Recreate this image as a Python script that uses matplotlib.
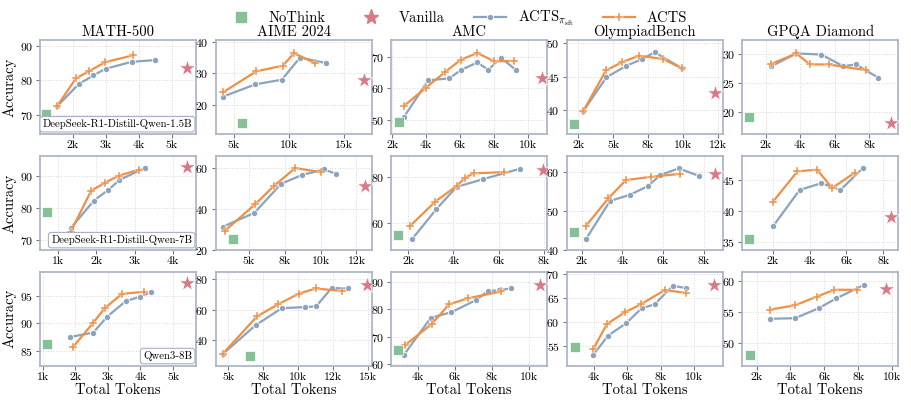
import matplotlib
matplotlib.use('Agg')
import matplotlib.pyplot as plt
from matplotlib.lines import Line2D
from matplotlib.ticker import FuncFormatter

# Benchmarks (columns) and models (rows)
benchmarks = ['MATH-500', 'AIME 2024', 'AMC', 'OlympiadBench', 'GPQA Diamond']
models = ['DeepSeek-R1-Distill-Qwen-1.5B', 'DeepSeek-R1-Distill-Qwen-7B', 'Qwen3-8B']

# ---- DeepSeek-R1-Distill-Qwen-1.5B ----
q15_acts_tok = [[1530, 2100, 2500, 2980, 3830],
                [4040, 7040, 9440, 10460, 12360],
                [2700, 3990, 5120, 6040, 7030, 8030, 9200],
                [2860, 4480, 5600, 6860, 8570, 9950],
                [2330, 3780, 4560, 5660, 7810]]
q15_acts_acc = [[72.5, 80.6, 82.7, 85.3, 87.3],
                [24.0, 30.7, 32.5, 36.5, 33.3],
                [54.4, 60.2, 65.2, 69.1, 71.3, 68.6, 68.8],
                [39.9, 45.9, 47.1, 48.1, 47.6, 46.2],
                [28.3, 30.1, 28.2, 28.2, 27.2]]
q15_sft_tok = [[1530, 2180, 2630, 3000, 3780, 4480],
               [4040, 6950, 9350, 11000, 13400],
               [2700, 4130, 5380, 6040, 7030, 7670, 8410, 9300],
               [2860, 4520, 5950, 7100, 7980, 9950],
               [2330, 3780, 5230, 6490, 7230, 8530]]
q15_sft_acc = [[72.5, 78.9, 81.5, 83.4, 85.4, 85.9],
               [22.6, 26.5, 28.0, 35.1, 33.3],
               [50.9, 62.6, 63.2, 65.8, 68.3, 65.9, 69.8, 65.9],
               [39.9, 44.9, 46.6, 47.6, 48.6, 46.2],
               [27.9, 30.1, 29.9, 27.9, 28.2, 25.9]]
q15_nothink = [(1200, 70.3), (5750, 14.2), (2400, 49.2), (2190, 38.0), (1030, 19.1)]
q15_vanilla = [(5460, 83.6), (16800, 27.8), (10860, 63.4), (12310, 42.5), (9260, 18.1)]

# ---- DeepSeek-R1-Distill-Qwen-7B ----
q7_acts_tok = [[1330, 1860, 2220, 2580, 3100],
               [3330, 5460, 6740, 8240, 10020],
               [2100, 3200, 4140, 4500, 4890, 6240],
               [2210, 3310, 4180, 5390, 6830],
               [2000, 3330, 4400, 5220, 6450]]
q7_acts_acc = [[72.5, 85.3, 87.8, 90.0, 91.9],
               [29.3, 42.4, 51.2, 60.0, 58.0],
               [58.8, 69.4, 76.2, 79.7, 81.8, 82.3],
               [46.2, 53.3, 58.0, 58.8, 59.6],
               [41.5, 46.4, 46.7, 43.7, 46.2]]
q7_sft_tok = [[1330, 1930, 2310, 2600, 3270],
              [3190, 5390, 7250, 8700, 10210, 11090],
              [2180, 3250, 4140, 5300, 6950],
              [2210, 3390, 4370, 5240, 5870, 6770, 7750],
              [2000, 3450, 4640, 5670, 6910]]
q7_sft_acc = [[73.6, 82.2, 85.6, 88.7, 92.5],
              [31.3, 38.1, 52.3, 56.6, 59.3, 57.2],
              [53.0, 66.1, 75.8, 79.2, 83.8],
              [42.8, 52.6, 54.2, 56.4, 59.3, 61.0, 59.1],
              [37.5, 43.4, 44.5, 43.4, 47.0]]
q7_nothink = [(720, 78.6), (3910, 25.4), (1550, 54.5), (1620, 44.7), (690, 35.5)]
q7_vanilla = [(4370, 92.7), (13060, 51.2), (7950, 83.3), (8570, 59.6), (8420, 39.0)]

# ---- Qwen3-8B ----
q3_acts_tok = [[1930, 2540, 2900, 3430, 4110],
               [4590, 7060, 8590, 10040, 11260, 13170],
               [3310, 4750, 5690, 6720, 8500],
               [3960, 4770, 5870, 6790, 8230, 9530],
               [2820, 4290, 5570, 6590, 7920]]
q3_acts_acc = [[85.7, 90.0, 92.7, 95.3, 95.7],
               [31.0, 55.6, 63.5, 70.3, 73.7, 72.1],
               [66.9, 74.7, 81.9, 84.1, 86.6],
               [54.4, 59.6, 62.1, 63.7, 66.7, 66.1],
               [55.4, 56.1, 57.5, 58.6, 58.6]]
q3_sft_tok = [[1840, 2550, 2980, 3550, 3990, 4310],
              [4590, 6990, 8830, 10500, 11290, 12400, 13600],
              [3250, 4690, 5810, 7130, 7780, 8350, 9030],
              [3960, 4850, 5930, 6850, 7620, 8710, 9530],
              [2820, 4290, 5660, 6710, 8350]]
q3_sft_acc = [[87.5, 88.3, 91.2, 94.0, 94.8, 95.6],
              [31.0, 50.0, 60.9, 61.6, 62.1, 74.0, 73.7],
              [63.4, 76.9, 79.0, 83.4, 86.7, 87.0, 87.7],
              [53.2, 57.2, 59.8, 62.9, 63.7, 67.6, 67.1],
              [53.9, 54.0, 55.6, 57.2, 59.4]]
q3_nothink = [(1120, 86.2), (6530, 29.8), (2930, 65.2), (2880, 54.9), (1610, 48.1)]
q3_vanilla = [(5440, 97.3), (14900, 75.9), (10570, 89.0), (11150, 67.8), (9650, 58.7)]

# Axis ticks and limits per panel
xticks = [[[2000, 3000, 4000, 5000], [5000, 10000, 15000], [2000, 4000, 6000, 8000, 10000],
           [2500, 5000, 7500, 10000, 12500], [2000, 4000, 6000, 8000]],
          [[1000, 2000, 3000, 4000], [5000, 7500, 10000, 12500], [2000, 4000, 6000, 8000],
           [2000, 4000, 6000, 8000], [2000, 4000, 6000, 8000]],
          [[1000, 2000, 3000, 4000, 5000], [5000, 7500, 10000, 12500, 15000], [4000, 6000, 8000, 10000],
           [4000, 6000, 8000, 10000], [2000, 4000, 6000, 8000, 10000]]]
yticks = [[[70, 80, 90], [20, 30, 40], [50, 60, 70], [40, 45, 50], [20, 25, 30]],
          [[70, 80, 90], [20, 40, 60], [60, 80], [40, 50, 60], [35, 40, 45]],
          [[85, 90, 95], [40, 60, 80], [60, 70, 80, 90], [55, 60, 65, 70], [50, 55, 60]]]
xlims = [[(1020, 5730), (3350, 17500), (1950, 11150), (1670, 12860), (640, 9690)],
         [(530, 4600), (2690, 13560), (1250, 8150), (1260, 8940), (330, 8820)],
         [(920, 5710), (4100, 15270), (2560, 10980), (2370, 11700), (1160, 10370)]]
ylims = [[(64.5, 91.7), (10.6, 40.7), (45.5, 75.4), (36.5, 50.4), (16.2, 32.4)],
         [(66.8, 96.2), (20, 65.9), (48.2, 89.4), (40, 64.2), (33.7, 48.9)],
         [(82.3, 99.3), (23.5, 84.5), (59.4, 93.75), (50.9, 70.5), (46.3, 61.5)]]

plt.rcParams['font.family'] = 'serif'
plt.rcParams['font.serif'] = ['cmr10']
plt.rcParams['mathtext.fontset'] = 'cm'
plt.rcParams['axes.formatter.use_mathtext'] = True

c_acts = '#EE9045'
c_sft = '#8CA3BE'
c_nothink = '#86C096'
c_vanilla = '#D77A86'
c_spine = '#A8B2C4'

rows = [(q15_acts_tok, q15_acts_acc, q15_sft_tok, q15_sft_acc, q15_nothink, q15_vanilla),
        (q7_acts_tok, q7_acts_acc, q7_sft_tok, q7_sft_acc, q7_nothink, q7_vanilla),
        (q3_acts_tok, q3_acts_acc, q3_sft_tok, q3_sft_acc, q3_nothink, q3_vanilla)]

fig, axes = plt.subplots(3, 5, figsize=(9.12, 4.01), dpi=100)
fig.subplots_adjust(left=0.044, right=0.985, top=0.90, bottom=0.088, wspace=0.125, hspace=0.235)

kfmt = FuncFormatter(lambda x, pos: f'{x / 1000:.0f}k')

for r, (at, aa, st, sa, nt, va) in enumerate(rows):
    for c in range(5):
        ax = axes[r, c]
        ax.plot(st[c], sa[c], color=c_sft, lw=1.6, marker='o', ms=4.5,
                mec='white', mew=0.6, zorder=3)
        ax.plot(at[c], aa[c], color=c_acts, lw=1.6, marker='P', ms=6,
                mec='white', mew=0.3, zorder=4)
        ax.scatter([nt[c][0]], [nt[c][1]], marker='s', s=55, color=c_nothink,
                   edgecolor='white', linewidth=0.5, zorder=5)
        ax.scatter([va[c][0]], [va[c][1]], marker='*', s=150, color=c_vanilla,
                   edgecolor='white', linewidth=0.5, zorder=5)

        ax.set_xticks(xticks[r][c])
        ax.set_yticks(yticks[r][c])
        ax.set_xlim(*xlims[r][c])
        ax.set_ylim(*ylims[r][c])
        ax.xaxis.set_major_formatter(kfmt)
        ax.grid(True, linestyle=':', color='#d8d8d8', linewidth=0.7)
        ax.set_axisbelow(True)
        for s in ax.spines.values():
            s.set_color(c_spine)
            s.set_linewidth(1.2)
        ax.tick_params(labelsize=8.5, length=3, width=0.8, color='#777777', pad=2)

        if r == 0:
            ax.set_title(benchmarks[c], fontsize=10.5, pad=3)
        if r == 2:
            ax.set_xlabel('Total Tokens', fontsize=10.5, labelpad=1)
        if c == 0:
            ax.set_ylabel('Accuracy', fontsize=10.5, labelpad=2)
            ax.text(0.975, 0.05, models[r], transform=ax.transAxes, ha='right', va='bottom',
                    fontsize=7.8, zorder=6,
                    bbox=dict(boxstyle='round,pad=0.25', fc='white', ec=c_spine, lw=0.8))

handles = [
    Line2D([], [], ls='none', marker='s', ms=7, color=c_nothink, label='NoThink'),
    Line2D([], [], ls='none', marker='*', ms=11, color=c_vanilla, label='Vanilla'),
    Line2D([], [], color=c_sft, lw=1.6, marker='o', ms=4.5, mec='white', mew=0.6,
           label=r'ACTS$_{\pi_{\mathrm{sft}}}$'),
    Line2D([], [], color=c_acts, lw=1.6, marker='P', ms=6, mec='white', mew=0.3, label='ACTS'),
]
fig.legend(handles=handles, loc='upper center', bbox_to_anchor=(0.5, 1.01), ncol=4,
           frameon=False, fontsize=10.5, handlelength=2.2, columnspacing=2.0)

fig.savefig('out.png', dpi=100)
